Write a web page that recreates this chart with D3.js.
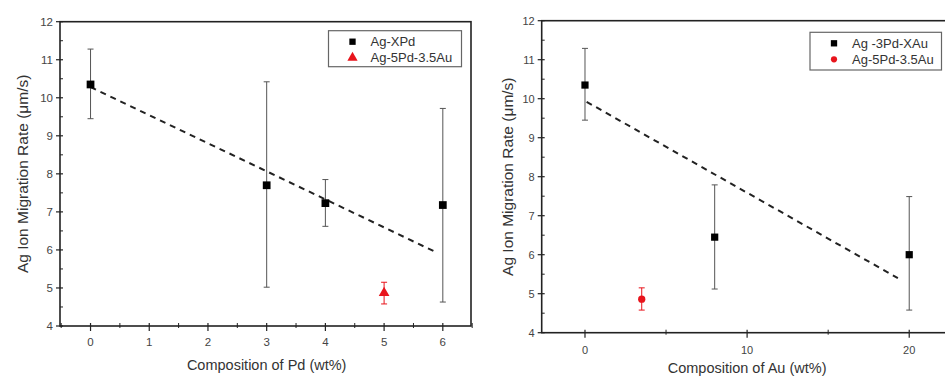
<!DOCTYPE html>
<html>
<head>
<meta charset="utf-8">
<script src="https://cdn.jsdelivr.net/npm/d3@7"></script>
<style>
  body { margin: 0; background: #fff; }
  svg { display: block; font-family: "Liberation Sans", Arial, sans-serif; }
</style>
</head>
<body>
<div id="chart"></div>
<script>
// --- data ---
const rateTicks = [4, 5, 6, 7, 8, 9, 10, 11, 12];

const pdComp = [0, 3, 4, 6];
const pdRate = [10.35, 7.7, 7.23, 7.18];
const pdLow = [9.45, 5.02, 6.62, 4.63];
const pdHigh = [11.28, 10.42, 7.85, 9.72];
const pdRefComp = [5];
const pdRefRate = [4.87];
const pdRefLow = [4.58];
const pdRefHigh = [5.15];
const pdFitX = [0, 5.87];
const pdFitY = [10.28, 5.95];
const pdTicks = [0, 1, 2, 3, 4, 5, 6];

const auComp = [0, 8, 20];
const auRate = [10.35, 6.45, 6.0];
const auLow = [9.45, 5.12, 4.58];
const auHigh = [11.29, 7.79, 7.49];
const auRefComp = [3.5];
const auRefRate = [4.86];
const auRefLow = [4.58];
const auRefHigh = [5.15];
const auFitX = [0.1, 19.3];
const auFitY = [9.92, 5.4];
const auTicks = [0, 10, 20];

const svg = d3.select('#chart').append('svg')
    .attr('width', 945)
    .attr('height', 378);

function panel(p) {
  const x = d3.scaleLinear().domain(p.xDomain).range([p.left, p.right]);
  const y = d3.scaleLinear().domain([4, 12]).range([p.bottom, p.top]);
  const g = svg.append('g');

  // frame
  g.append('rect')
    .attr('x', p.left).attr('y', p.top)
    .attr('width', p.right - p.left).attr('height', p.bottom - p.top)
    .attr('fill', 'none').attr('stroke', '#222').attr('stroke-width', 1.6);

  // y ticks
  const yMinor = d3.range(4.5, 12, 1);
  g.selectAll('.ymaj').data(rateTicks).join('line')
    .attr('x1', p.left - 4).attr('x2', p.left + 3)
    .attr('y1', d => y(d)).attr('y2', d => y(d))
    .attr('stroke', '#222').attr('stroke-width', 1.2);
  g.selectAll('.ymin').data(yMinor).join('line')
    .attr('x1', p.left).attr('x2', p.left + 3)
    .attr('y1', d => y(d)).attr('y2', d => y(d))
    .attr('stroke', '#222').attr('stroke-width', 1);
  g.selectAll('.ylab').data(rateTicks).join('text')
    .attr('x', p.left - 7).attr('y', d => y(d)).attr('dy', '0.35em')
    .attr('text-anchor', 'end').attr('font-size', p.tickSize).attr('fill', '#444')
    .text(d => d);

  // x ticks
  g.selectAll('.xmaj').data(p.ticks).join('line')
    .attr('x1', d => x(d)).attr('x2', d => x(d))
    .attr('y1', p.bottom - 3).attr('y2', p.bottom + 5)
    .attr('stroke', '#222').attr('stroke-width', 1.2);
  g.selectAll('.xmin').data(p.minor).join('line')
    .attr('x1', d => x(d)).attr('x2', d => x(d))
    .attr('y1', p.bottom - 3).attr('y2', p.bottom + 2)
    .attr('stroke', '#222').attr('stroke-width', 1);
  g.selectAll('.xlab').data(p.ticks).join('text')
    .attr('x', d => x(d)).attr('y', p.xLabY).attr('dy', '0.35em')
    .attr('text-anchor', 'middle').attr('font-size', p.tickSize).attr('fill', '#444')
    .text(d => d);

  // axis titles
  g.append('text')
    .attr('x', (x(p.ticks[0]) + x(p.ticks[p.ticks.length - 1])) / 2)
    .attr('y', p.xTitleY).attr('dy', '0.35em')
    .attr('text-anchor', 'middle').attr('font-size', 14.5).attr('fill', '#333')
    .text(p.xTitle);
  g.append('text')
    .attr('transform', `translate(${p.yTitleX},${(p.top + p.bottom) / 2}) rotate(-90)`)
    .attr('dy', '0.35em')
    .attr('text-anchor', 'middle').attr('font-size', 15.5).attr('fill', '#333')
    .text('Ag Ion Migration Rate (\u03bcm/s)');

  // fit line
  g.append('line')
    .attr('x1', x(p.fitX[0])).attr('y1', y(p.fitY[0]))
    .attr('x2', x(p.fitX[1])).attr('y2', y(p.fitY[1]))
    .attr('stroke', '#222').attr('stroke-width', 2)
    .attr('stroke-dasharray', '6,5');

  // error bars + markers
  function series(xs, ys, lo, hi, color, barColor, sym, size) {
    const rows = xs.map((d, i) => ({x: d, y: ys[i], lo: lo[i], hi: hi[i]}));
    const eb = g.append('g');
    eb.selectAll('.bar').data(rows).join('line')
      .attr('x1', d => x(d.x)).attr('x2', d => x(d.x))
      .attr('y1', d => y(d.lo)).attr('y2', d => y(d.hi))
      .attr('stroke', barColor).attr('stroke-width', 1);
    ['lo', 'hi'].forEach(k => {
      eb.selectAll('.cap' + k).data(rows).join('line')
        .attr('x1', d => x(d.x) - 3).attr('x2', d => x(d.x) + 3)
        .attr('y1', d => y(d[k])).attr('y2', d => y(d[k]))
        .attr('stroke', barColor).attr('stroke-width', 1);
    });
    g.selectAll(null).data(rows).join('path')
      .attr('transform', d => `translate(${x(d.x)},${y(d.y)})`)
      .attr('d', d3.symbol(sym, size))
      .attr('fill', color);
  }
  series(p.comp, p.rate, p.low, p.high, '#000', '#555', d3.symbolSquare, p.sqSize);
  series(p.refComp, p.refRate, p.refLow, p.refHigh, '#e8141c', '#e8141c', p.refSym, p.refSize);

  // legend
  const lg = g.append('g');
  lg.append('rect')
    .attr('x', p.lg[0]).attr('y', p.lg[1]).attr('width', p.lg[2]).attr('height', p.lg[3])
    .attr('fill', '#fff').attr('stroke', '#666').attr('stroke-width', 1.2);
  const items = [
    {name: p.names[0], color: '#000', sym: d3.symbolSquare, size: 40},
    {name: p.names[1], color: '#e8141c', sym: p.refSym, size: p.refSym === d3.symbolTriangle ? 45 : 30}
  ];
  items.forEach((it, i) => {
    const cy = p.lg[1] + 11 + i * 16;
    lg.append('path')
      .attr('transform', `translate(${p.lg[0] + p.lgMark},${cy})`)
      .attr('d', d3.symbol(it.sym, it.size)).attr('fill', it.color);
    lg.append('text')
      .attr('x', p.lg[0] + p.lgText).attr('y', cy).attr('dy', '0.35em')
      .attr('font-size', 13).attr('fill', '#333')
      .text(it.name);
  });
}

panel({
  left: 60, right: 471, top: 21.7, bottom: 326,
  xDomain: [-0.52, 6.48], ticks: pdTicks, minor: d3.range(-0.5, 6.6, 0.5).filter(d => d % 1 !== 0),
  tickSize: 11.5, xLabY: 342, xTitleY: 365, yTitleX: 23,
  xTitle: 'Composition of Pd (wt%)',
  comp: pdComp, rate: pdRate, low: pdLow, high: pdHigh,
  refComp: pdRefComp, refRate: pdRefRate, refLow: pdRefLow, refHigh: pdRefHigh,
  fitX: pdFitX, fitY: pdFitY,
  sqSize: 60, refSym: d3.symbolTriangle, refSize: 50,
  lg: [328.5, 30.7, 133, 36], lgMark: 24, lgText: 42, names: ['Ag-XPd', 'Ag-5Pd-3.5Au']
});

panel({
  left: 541.7, right: 947, top: 20.7, bottom: 332.7,
  xDomain: [-2.67, 22.33], ticks: auTicks, minor: [5, 15],
  tickSize: 11, xLabY: 350, xTitleY: 368, yTitleX: 508,
  xTitle: 'Composition of Au (wt%)',
  comp: auComp, rate: auRate, low: auLow, high: auHigh,
  refComp: auRefComp, refRate: auRefRate, refLow: auRefLow, refHigh: auRefHigh,
  fitX: auFitX, fitY: auFitY,
  sqSize: 52, refSym: d3.symbolCircle, refSize: 42,
  lg: [810, 32.3, 131.5, 37.7], lgMark: 24, lgText: 42, names: ['Ag -3Pd-XAu', 'Ag-5Pd-3.5Au']
});
</script>
</body>
</html>
